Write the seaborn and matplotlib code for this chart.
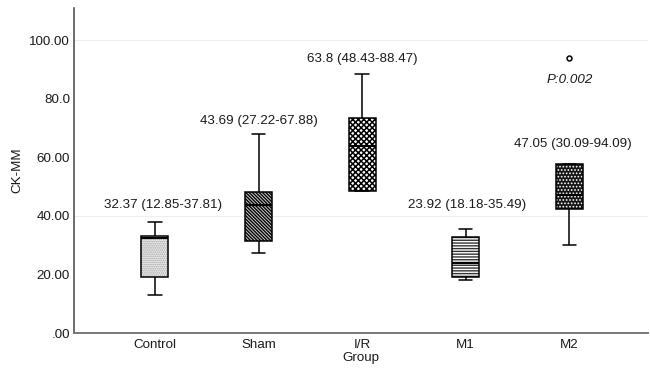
import numpy as np
import pandas as pd
import matplotlib
matplotlib.use("Agg")
import matplotlib.pyplot as plt
import matplotlib.colors as mcolors
import seaborn as sns


GROUPS = ["Control", "Sham", "I/R", "M1", "M2"]

# five values per group: min, q1, median, q3, max
control = [12.85, 19.1, 32.37, 33.1, 37.81]
sham = [27.22, 31.5, 43.69, 48.2, 67.88]
ir = [48.43, 48.6, 63.8, 73.3, 88.47]
m1 = [18.18, 19.1, 23.92, 32.7, 35.49]
m2 = [30.09, 42.3, 47.05, 57.7, 94.09]

LABELS = [
    "32.37 (12.85-37.81)",
    "43.69 (27.22-67.88)",
    "63.8 (48.43-88.47)",
    "23.92 (18.18-35.49)",
    "47.05 (30.09-94.09)",
]
LABEL_Y = [43.7, 72.3, 93.7, 43.9, 64.7]
LABEL_DX = [0.08, 0.0, 0.0, 0.01, 0.03]
P_TEXT = "P:0.002"
P_Y = 86.3

YTICKS = [0, 20, 40, 60, 80, 100]
YTICK_LABELS = [".00", "20.00", "40.00", "60.00", "80.0", "100.00"]


##############################################################################
# DATA FRAME
##############################################################################

values = [control, sham, ir, m1, m2]
df = pd.DataFrame({
    "Group": np.repeat(GROUPS, [len(v) for v in values]),
    "CK-MM": np.concatenate(values),
})


##############################################################################
# PLOT
##############################################################################

sns.set_theme(style="white")
plt.rcParams["font.family"] = ["Liberation Sans", "DejaVu Sans"]
plt.rcParams["hatch.linewidth"] = 0.8

fig = plt.figure(figsize=(6.5, 3.7), dpi=100)
ax = fig.add_axes([0.114, 0.1, 0.883, 0.878])

ax.axhline(40, color="#eeeeee", lw=0.8, zorder=0)
ax.axhline(100, color="#eeeeee", lw=0.8, zorder=0)

sns.boxplot(
    data=df, x="Group", y="CK-MM", order=GROUPS,
    width=0.26, linewidth=1.1, linecolor="black", color="white",
    whis=1.5, ax=ax,
    medianprops=dict(color="black", linewidth=1.5),
    flierprops=dict(marker="o", markersize=3.5, markerfacecolor="white",
                    markeredgecolor="black", markeredgewidth=1.1),
)

faces = ["#eeeeee", "#d0d0d0", "white", "white", "#151515"]
hatches = ["........", "\\" * 10, "x" * 6, "-" * 6, "." * 5]
hatch_colors = ["#a0a0a0", "black", "black", "#333333", "white"]
hatch_widths = [0.8, 1.0, 1.1, 1.0, 0.8]

for patch, fc, h, hc, hw in zip(ax.patches, faces, hatches, hatch_colors, hatch_widths):
    patch.set_facecolor(fc)
    patch.set_edgecolor("black")
    patch.set_hatch(h)
    patch._hatch_color = mcolors.to_rgba(hc)
    patch._hatch_linewidth = hw

for i, txt in enumerate(LABELS):
    ax.text(i + LABEL_DX[i], LABEL_Y[i], txt, ha="center", va="center",
            fontsize=9.6, color="#1a1a1a")

ax.text(4, P_Y, P_TEXT, ha="center", va="center", fontsize=9.6,
        style="italic", color="#1a1a1a")

ax.set_xlim(-0.78, 4.76)
ax.set_ylim(0, 111)
ax.set_yticks(YTICKS)
ax.set_yticklabels(YTICK_LABELS)

ax.tick_params(axis="both", length=0, labelsize=9.6, colors="#1a1a1a")
ax.tick_params(axis="y", pad=3)
ax.tick_params(axis="x", pad=4)

ax.set_xlabel("Group", fontsize=9.6, color="#1a1a1a", labelpad=1)
ax.set_ylabel("CK-MM", fontsize=9.6, color="#1a1a1a", labelpad=4)

sns.despine(ax=ax)
ax.spines["left"].set_color("#444444")
ax.spines["bottom"].set_color("#777777")
ax.spines["left"].set_linewidth(1.1)
ax.spines["bottom"].set_linewidth(1.4)

fig.savefig("out.png", dpi=100)
